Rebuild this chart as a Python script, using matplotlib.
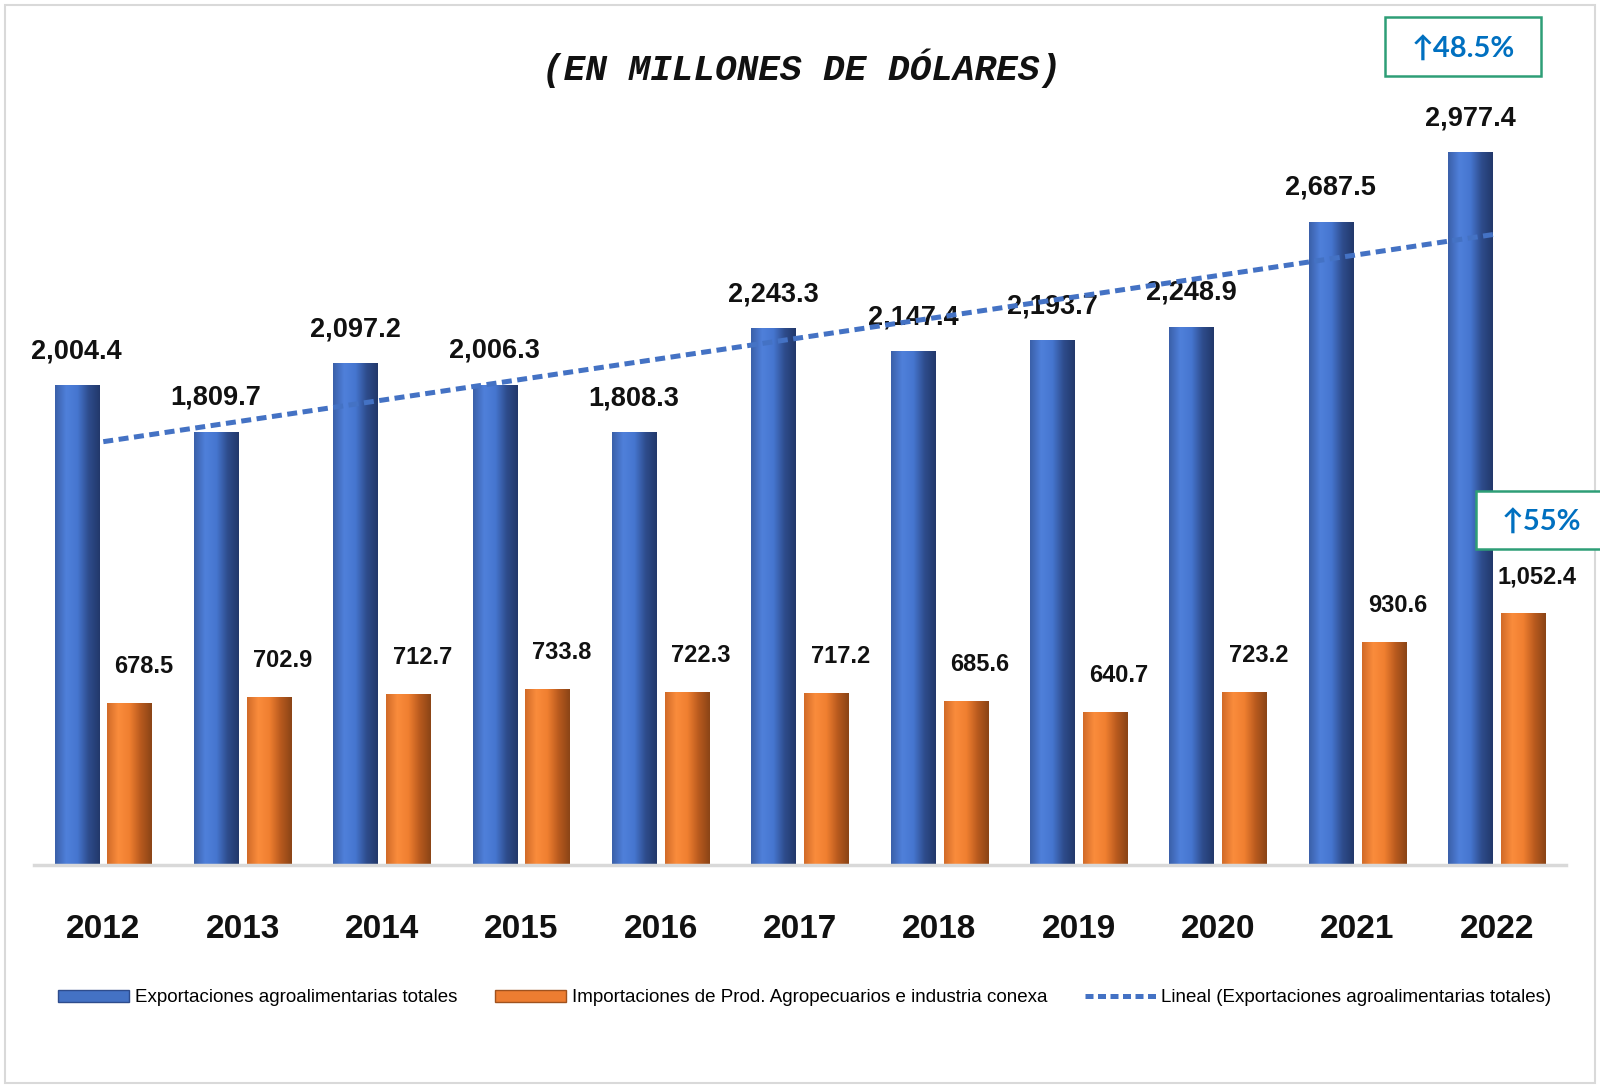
import numpy as np
import matplotlib
matplotlib.use("Agg")
import matplotlib.pyplot as plt
from matplotlib.patches import Patch, Rectangle
from matplotlib.lines import Line2D
from matplotlib.colors import LinearSegmentedColormap

years = ["2012", "2013", "2014", "2015", "2016", "2017", "2018", "2019", "2020", "2021", "2022"]
exports = [2004.4, 1809.7, 2097.2, 2006.3, 1808.3, 2243.3, 2147.4, 2193.7, 2248.9, 2687.5, 2977.4]
imports = [678.5, 702.9, 712.7, 733.8, 722.3, 717.2, 685.6, 640.7, 723.2, 930.6, 1052.4]
legend_labels = ["Exportaciones agroalimentarias totales",
                 "Importaciones de Prod. Agropecuarios e industria conexa",
                 "Lineal (Exportaciones agroalimentarias totales)"]
title = "(EN MILLONES DE DÓLARES)"
growth_exports = "↑48.5%"
growth_imports = "↑55%"

NARROW = ["Liberation Sans", "DejaVu Sans"]
BLUE = "#4472C4"
ORANGE = "#ED7D31"

fig = plt.figure(figsize=(16, 10.88), dpi=100)
ax = fig.add_axes([0.021, 0.205, 0.958, 0.770])

x = np.arange(len(years))
w = 0.32
off = 0.19

blue_cmap = LinearSegmentedColormap.from_list("b", ["#3A5FA8", "#4F80DA", "#4676D0", "#2E4C8C", "#22386A"])
orange_cmap = LinearSegmentedColormap.from_list("o", ["#D06A28", "#FA8C3C", "#F07F30", "#B85A1E", "#8A4416"])
grad = np.linspace(0, 1, 256).reshape(1, -1)

def draw_bars(xs, vals, cmap, color):
    bars = ax.bar(xs, vals, width=w, color=color, zorder=2, linewidth=0)
    for b in bars:
        bx, by = b.get_x(), b.get_y()
        bw, bh = b.get_width(), b.get_height()
        im = ax.imshow(grad, extent=[bx, bx + bw, by, by + bh], aspect="auto",
                       cmap=cmap, zorder=2.5, interpolation="bicubic")
        im.set_clip_path(b)
    return bars

bb = draw_bars(x - off, exports, blue_cmap, BLUE)
ob = draw_bars(x + off, imports, orange_cmap, ORANGE)

# trend line (linear fit of exports)
coef = np.polyfit(x, exports, 1)
trend = np.polyval(coef, x)
ax.plot(x, trend, color=BLUE, lw=3.6, dashes=(2.0, 1.1), zorder=4)

# data labels
for xi, v in zip(x, exports):
    ax.annotate(f"{v:,.1f}", (xi - off, v), xytext=(0, 15), textcoords="offset points",
                ha="center", va="bottom", fontsize=19.5, fontweight="bold",
                family=NARROW, color="#111111", zorder=3)
for xi, v in zip(x, imports):
    ax.annotate(f"{v:,.1f}", (xi + off, v), xytext=(10, 18), textcoords="offset points",
                ha="center", va="bottom", fontsize=17, fontweight="bold",
                family=NARROW, color="#111111", zorder=3)

ax.set_xlim(-0.5, len(years) - 0.5)
ax.set_ylim(0, 3500)
ax.set_yticks([])
ax.set_xticks(x)
ax.set_xticklabels(years, fontsize=24, fontweight="bold", family=NARROW, color="#111111")
ax.tick_params(axis="x", length=0, pad=35)
for s in ["top", "right", "left"]:
    ax.spines[s].set_visible(False)
ax.spines["bottom"].set_color("#D9D9D9")
ax.spines["bottom"].set_linewidth(2.5)
ax.set_facecolor("none")

# title
fig.text(0.501, 0.937, title, ha="center", va="center", fontsize=26,
         family=["Liberation Mono", "DejaVu Sans Mono"], fontweight="bold", style="italic",
         color="#111111")

# growth boxes
W, H = 1600.0, 1088.0
fig.patches.append(Rectangle((1385 / W, 1 - 76 / H), 156 / W, 59 / H, transform=fig.transFigure,
                             fc="white", ec="#2E9E77", lw=1.8, zorder=5))
fig.patches.append(Rectangle((1476 / W, 1 - 549 / H), 130 / W, 58 / H, transform=fig.transFigure,
                             fc="white", ec="#2E9E77", lw=1.8, zorder=5))
fig.text(1463 / W, 1 - 50 / H, growth_exports, ha="center", va="center", fontsize=21, fontweight="bold",
         family=["Lato", "DejaVu Sans"], color="#0070C0", zorder=6)
fig.text(1541 / W, 1 - 523 / H, growth_imports, ha="center", va="center", fontsize=21, fontweight="bold",
         family=["Lato", "DejaVu Sans"], color="#0070C0", zorder=6)

# legend
handles = [Patch(facecolor=BLUE, edgecolor="#2E4C8C"),
           Patch(facecolor=ORANGE, edgecolor="#A0521E"),
           Line2D([0], [0], color=BLUE, lw=3.6, dashes=(1.6, 0.9))]
leg = fig.legend(handles, legend_labels, loc="center", bbox_to_anchor=(0.503, 0.083), ncol=3,
                 frameon=False, prop={"family": NARROW, "size": 13.5}, handlelength=3.8,
                 handleheight=0.6, handletextpad=0.3, columnspacing=2.0)

# outer frame
fig.patches.append(Rectangle((0.003, 0.005), 0.994, 0.99, transform=fig.transFigure,
                             fill=False, ec="#D9D9D9", lw=1.5))

fig.savefig("out.png", dpi=100)
